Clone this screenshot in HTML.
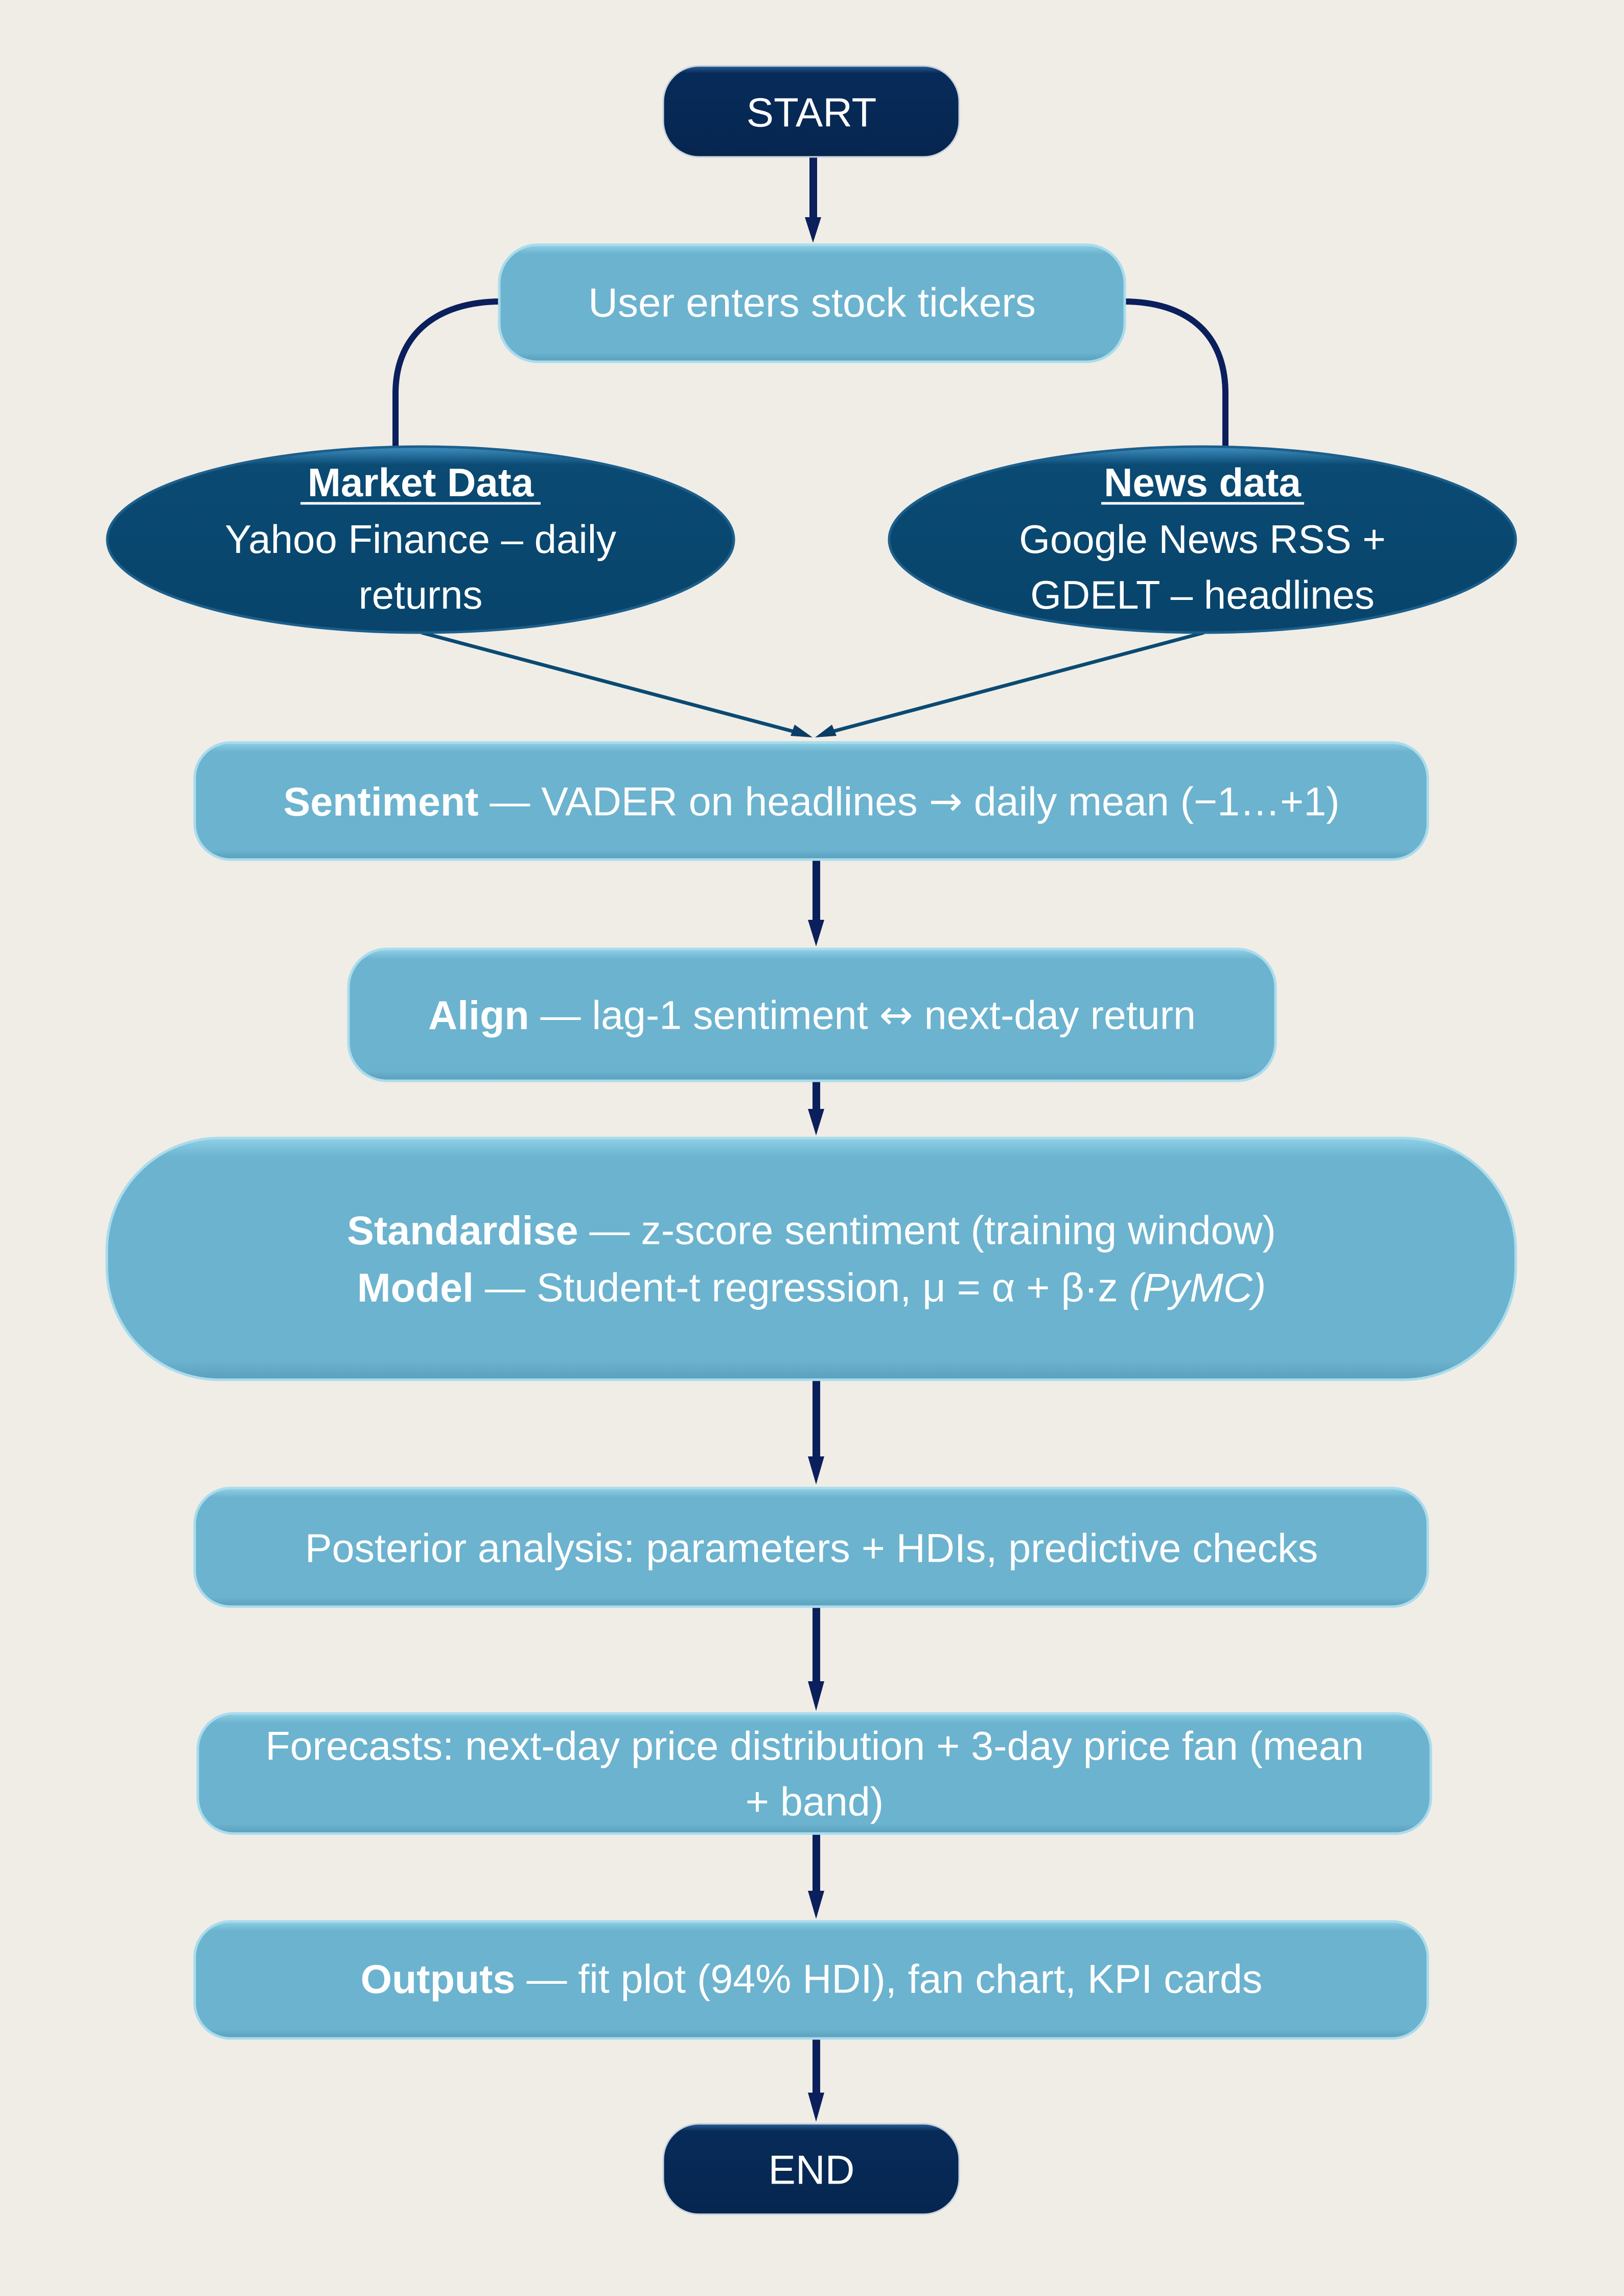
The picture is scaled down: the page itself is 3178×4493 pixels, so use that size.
<!DOCTYPE html>
<html><head><meta charset="utf-8"><style>
html,body{margin:0;padding:0;background:#f0ede6;}
svg{display:block;}
text{font-family:"Liberation Sans",sans-serif;fill:#fff;}
.ar{font-family:"DejaVu Sans",sans-serif;}
</style></head><body>
<svg width="3178" height="4493" viewBox="0 0 3178 4493" xmlns="http://www.w3.org/2000/svg">
<defs>
<linearGradient id="lb" x1="0" y1="0" x2="0" y2="1">
<stop offset="0" stop-color="#8fd0e6"/><stop offset="0.08" stop-color="#6cb3cf"/><stop offset="0.92" stop-color="#6cb3cf"/><stop offset="1" stop-color="#5a9fbd"/>
</linearGradient>
<linearGradient id="nv" x1="0" y1="0" x2="0" y2="1">
<stop offset="0" stop-color="#2a5f99"/><stop offset="0.08" stop-color="#072b59"/><stop offset="1" stop-color="#062650"/>
</linearGradient>
<linearGradient id="el" x1="0" y1="0" x2="0" y2="1">
<stop offset="0" stop-color="#3f8fc0"/><stop offset="0.1" stop-color="#0a4a73"/><stop offset="1" stop-color="#08446b"/>
</linearGradient>
</defs>
<rect width="3178" height="4493" fill="#f0ede6"/>

<g fill="#0b1f5c">
<rect x="1584" y="307" width="15" height="120"/><polygon points="1575,425 1607,425 1591,475"/>
<rect x="1590" y="1683" width="15" height="120"/><polygon points="1581,1800 1613,1800 1597,1852"/>
<rect x="1590" y="2115" width="15" height="60"/><polygon points="1581,2170 1613,2170 1597,2222"/>
<rect x="1590" y="2700" width="15" height="155"/><polygon points="1581,2850 1613,2850 1597,2905"/>
<rect x="1590" y="3144" width="15" height="150"/><polygon points="1581,3290 1613,3290 1597,3348"/>
<rect x="1590" y="3588" width="15" height="115"/><polygon points="1581,3700 1613,3700 1597,3755"/>
<rect x="1590" y="3989" width="15" height="110"/><polygon points="1581,4095 1613,4095 1597,4152"/>
</g>
<g fill="none" stroke="#0b1f5c" stroke-width="12">
<path d="M980,590 C860,590 774,650 774,770 L774,876"/>
<path d="M2198,590 C2320,590 2398,650 2398,770 L2398,876"/>
</g>
<g stroke="#0a4a73" stroke-width="7">
<line x1="825" y1="1238" x2="1570" y2="1436"/>
<line x1="2356" y1="1238" x2="1612" y2="1436"/>
</g>
<g fill="#0a3d66">
<polygon points="1590,1443 1555,1418 1547,1440"/>
<polygon points="1595,1443 1628,1418 1637,1440"/>
</g>

<rect x="1298" y="129" width="579" height="178" rx="70" fill="url(#nv)" stroke="#c9d3dc" stroke-width="3"/>
<text x="1588" y="220" font-size="80" text-anchor="middle" dominant-baseline="central">START</text>
<rect x="1298" y="4156" width="579" height="177" rx="70" fill="url(#nv)" stroke="#c9d3dc" stroke-width="3"/>
<text x="1588" y="4246" font-size="80" text-anchor="middle" dominant-baseline="central">END</text>

<rect x="977" y="479" width="1224" height="229" rx="75" fill="url(#lb)" stroke="#a9dcec" stroke-width="5"/>
<text x="1589" y="592" font-size="80" text-anchor="middle" dominant-baseline="central">User enters stock tickers</text>

<ellipse cx="823" cy="1056" rx="613" ry="182" fill="url(#el)" stroke="#1c5f8c" stroke-width="5"/>
<text x="823" y="944" font-size="78" font-weight="bold" text-anchor="middle" dominant-baseline="central">Market Data</text>
<line x1="588" y1="985" x2="1058" y2="985" stroke="#fff" stroke-width="5"/>
<text x="823" y="1055" font-size="78" text-anchor="middle" dominant-baseline="central">Yahoo Finance – daily</text>
<text x="823" y="1164" font-size="78" text-anchor="middle" dominant-baseline="central">returns</text>

<ellipse cx="2353" cy="1056" rx="613" ry="182" fill="url(#el)" stroke="#1c5f8c" stroke-width="5"/>
<text x="2353" y="944" font-size="78" font-weight="bold" text-anchor="middle" dominant-baseline="central">News data</text>
<line x1="2155" y1="985" x2="2552" y2="985" stroke="#fff" stroke-width="5"/>
<text x="2353" y="1055" font-size="78" text-anchor="middle" dominant-baseline="central">Google News RSS +</text>
<text x="2353" y="1164" font-size="78" text-anchor="middle" dominant-baseline="central">GDELT –  headlines</text>

<g fill="url(#lb)" stroke="#a9dcec" stroke-width="5">
<rect x="381" y="1453" width="2413" height="229" rx="70"/>
<rect x="682" y="1857" width="1814" height="258" rx="75"/>
<rect x="209" y="2227" width="2757" height="473" rx="220"/>
<rect x="381" y="2912" width="2413" height="232" rx="70"/>
<rect x="387" y="3353" width="2413" height="235" rx="70"/>
<rect x="381" y="3760" width="2413" height="229" rx="70"/>
</g>
<g font-size="79" text-anchor="middle" dominant-baseline="central">
<text x="1588" y="1568"><tspan font-weight="bold">Sentiment</tspan> — VADER on headlines <tspan class="ar">→</tspan> daily mean (−1…+1)</text>
<text x="1589" y="1986"><tspan font-weight="bold">Align</tspan> — lag-1 sentiment <tspan class="ar">↔</tspan> next-day return</text>
<text x="1588" y="2407"><tspan font-weight="bold">Standardise</tspan> — z-score sentiment (training window)</text>
<text x="1588" y="2519"><tspan font-weight="bold">Model</tspan> — Student-t regression, μ = α + β·z <tspan font-style="italic">(PyMC)</tspan></text>
<text x="1588" y="3029">Posterior analysis: parameters + HDIs, predictive checks</text>
<text x="1594" y="3416">Forecasts: next-day price distribution + 3-day price fan (mean</text>
<text x="1594" y="3525">+ band)</text>
<text x="1588" y="3872"><tspan font-weight="bold">Outputs</tspan> — fit plot (94% HDI), fan chart, KPI cards</text>
</g>
</svg>
</body></html>
